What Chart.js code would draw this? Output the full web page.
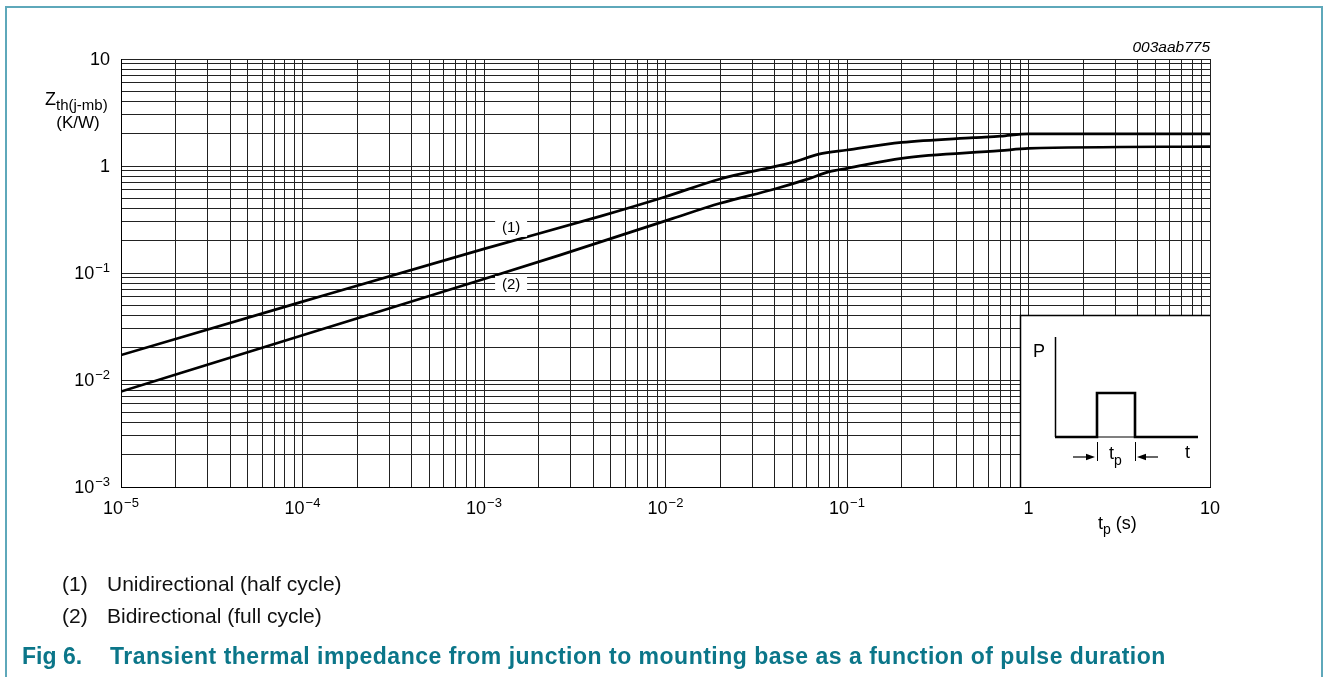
<!DOCTYPE html>
<html>
<head>
<meta charset="utf-8">
<script src="https://cdn.jsdelivr.net/npm/chart.js"></script>
<style>
html,body{margin:0;padding:0;background:#fff;}
#wrap{position:relative;width:1327px;height:677px;overflow:hidden;background:#fff;}
#frame{position:absolute;left:5px;top:6px;width:1318px;height:720px;border:2px solid #5ea8ba;border-bottom:none;box-sizing:border-box;}
canvas{position:absolute;left:0;top:0;}
.leg{position:absolute;font-family:"Liberation Sans",Arial,sans-serif;font-size:21px;line-height:24px;color:#111;white-space:nowrap;}
.cap{position:absolute;font-family:"Liberation Sans",Arial,sans-serif;font-weight:bold;font-size:23px;line-height:26px;color:#0b7689;white-space:nowrap;}
</style>
</head>
<body>
<div id="wrap">
  <canvas id="c" width="1327" height="677"></canvas>
  <div id="frame"></div>
  <div class="leg" style="left:62px;top:572px;">(1)</div>
  <div class="leg" id="leg1" style="left:107px;top:572px;"></div>
  <div class="leg" style="left:62px;top:604px;">(2)</div>
  <div class="leg" id="leg2" style="left:107px;top:604px;"></div>
  <div class="cap" style="left:22px;top:643px;">Fig 6.</div>
  <div class="cap" id="cap" style="left:110px;top:643px;letter-spacing:0.5px;"></div>
</div>
<script>
// ---- data ----
const xTickValues = [1e-5, 1e-4, 1e-3, 1e-2, 1e-1, 1, 10];
const xTickLabels = ['10^−5', '10^−4', '10^−3', '10^−2', '10^−1', '1', '10'];
const yTickValues = [1e-3, 1e-2, 1e-1, 1, 10];
const yTickLabels = ['10^−3', '10^−2', '10^−1', '1', '10'];

// curve (1) unidirectional (half cycle)
const t1 = [1e-5, 1e-4, 1e-3, 4.4e-3, 0.01, 0.02, 0.05, 0.07, 0.1, 0.2, 0.5, 0.7, 1, 2, 10];
const z1 = [0.0171, 0.054, 0.168, 0.34, 0.516, 0.757, 1.08, 1.29, 1.41, 1.66, 1.84, 1.90, 2.0, 2.0, 2.0];
// curve (2) bidirectional (full cycle)
const t2 = [1e-5, 1e-4, 1e-3, 2.62e-3, 0.011, 0.02, 0.04, 0.06, 0.08, 0.1, 0.2, 0.7, 1, 10];
const z2 = [0.0078, 0.0262, 0.088, 0.147, 0.324, 0.448, 0.61, 0.75, 0.885, 0.95, 1.18, 1.39, 1.46, 1.52];

const seriesTags = ['(1)', '(2)'];
const legendTexts = ['Unidirectional (half cycle)', 'Bidirectional (full cycle)'];
const captionText = 'Transient thermal impedance from junction to mounting base as a function of pulse duration';
const figCode = '003aab775';

// where the curve tags sit (data coordinates)
const tagPos = [{x: 1.41e-3, y: 0.264}, {x: 1.41e-3, y: 0.0773}];

document.getElementById('leg1').textContent = legendTexts[0];
document.getElementById('leg2').textContent = legendTexts[1];
document.getElementById('cap').textContent = captionText;

const FONT = '"Liberation Sans", Arial, sans-serif';

function logTicks(min, max) {
  const out = [];
  const e0 = Math.round(Math.log10(min)), e1 = Math.round(Math.log10(max));
  for (let e = e0; e < e1; e++) {
    for (let m = 1; m < 10; m++) out.push(parseFloat((m * Math.pow(10, e)).toPrecision(6)));
  }
  out.push(max);
  return out;
}

function drawPow(ctx, label, x, y, align) {
  const parts = label.split('^');
  const b = parts[0], e = parts[1] || '';
  ctx.font = '18px ' + FONT;
  const wb = ctx.measureText(b).width;
  ctx.font = '13px ' + FONT;
  const we = e ? ctx.measureText(e).width + 1 : 0;
  const total = wb + we;
  let x0 = align === 'center' ? x - total / 2 : (align === 'right' ? x - total : x);
  ctx.textAlign = 'left';
  ctx.textBaseline = 'middle';
  ctx.fillStyle = '#000';
  ctx.font = '18px ' + FONT;
  ctx.fillText(b, x0, y);
  if (e) {
    ctx.font = '13px ' + FONT;
    ctx.fillText(e, x0 + wb + 1, y - 6);
  }
}

function arrow(ctx, x1, y, x2) {
  const dir = Math.sign(x2 - x1);
  ctx.beginPath();
  ctx.moveTo(x1, y);
  ctx.lineTo(x2 - dir * 7, y);
  ctx.stroke();
  ctx.beginPath();
  ctx.moveTo(x2, y);
  ctx.lineTo(x2 - dir * 9, y - 3.2);
  ctx.lineTo(x2 - dir * 9, y + 3.2);
  ctx.closePath();
  ctx.fill();
}

const decor = {
  id: 'decor',
  afterDraw(chart) {
    const ctx = chart.ctx;
    const xs = chart.scales.x, ys = chart.scales.y;
    const ca = chart.chartArea;
    ctx.save();
    // tick labels
    xTickValues.forEach((v, i) => drawPow(ctx, xTickLabels[i], xs.getPixelForValue(v), ca.bottom + 22, 'center'));
    yTickValues.forEach((v, i) => drawPow(ctx, yTickLabels[i], ca.left - 11, ys.getPixelForValue(v) + 1, 'right'));

    // y axis title
    ctx.fillStyle = '#000';
    ctx.textBaseline = 'middle';
    ctx.textAlign = 'left';
    ctx.font = '18px ' + FONT;
    ctx.fillText('Z', 45, 100);
    const wz = ctx.measureText('Z').width;
    ctx.font = '15px ' + FONT;
    ctx.fillText('th(j-mb)', 45 + wz, 106);
    ctx.font = '17px ' + FONT;
    ctx.textAlign = 'center';
    ctx.fillText('(K/W)', 78, 123);

    // x axis title
    ctx.textAlign = 'left';
    ctx.font = '18px ' + FONT;
    ctx.fillText('t', 1098, 524);
    const wt = ctx.measureText('t').width;
    ctx.font = '14px ' + FONT;
    ctx.fillText('p', 1098 + wt, 530);
    const wp = ctx.measureText('p').width;
    ctx.font = '18px ' + FONT;
    ctx.fillText(' (s)', 1098 + wt + wp, 524);

    // figure code
    ctx.font = 'italic 15.5px ' + FONT;
    ctx.textAlign = 'right';
    ctx.fillText(figCode, ca.right, 48);

    // curve tags with white boxes
    tagPos.forEach((p, i) => {
      const px = xs.getPixelForValue(p.x), py = ys.getPixelForValue(p.y);
      ctx.fillStyle = '#fff';
      ctx.fillRect(px - 16, py - 9, 32, 18);
      ctx.fillStyle = '#000';
      ctx.font = '15px ' + FONT;
      ctx.textAlign = 'center';
      ctx.textBaseline = 'middle';
      ctx.fillText(seriesTags[i], px, py);
    });

    // inset pulse sketch
    const L = ca.right - 190, T = ca.bottom - 172;
    ctx.fillStyle = '#fff';
    ctx.fillRect(L, T, 190, 172);
    ctx.strokeStyle = '#000';
    ctx.lineWidth = 1.5;
    ctx.beginPath();
    ctx.moveTo(L + 0.5, ca.bottom);
    ctx.lineTo(L + 0.5, T + 0.5);
    ctx.lineTo(ca.right, T + 0.5);
    ctx.stroke();
    // P axis
    ctx.lineWidth = 1.5;
    ctx.beginPath();
    ctx.moveTo(L + 35.5, T + 22);
    ctx.lineTo(L + 35.5, T + 122);
    ctx.stroke();
    // pulse
    ctx.lineWidth = 2.6;
    ctx.beginPath();
    ctx.moveTo(L + 35, T + 122);
    ctx.lineTo(L + 77, T + 122);
    ctx.lineTo(L + 77, T + 78);
    ctx.lineTo(L + 115, T + 78);
    ctx.lineTo(L + 115, T + 122);
    ctx.lineTo(L + 178, T + 122);
    ctx.stroke();
    ctx.lineWidth = 1.2;
    ctx.beginPath();
    ctx.moveTo(L + 77, T + 122);
    ctx.lineTo(L + 115, T + 122);
    ctx.stroke();
    // dimension marks
    ctx.lineWidth = 1;
    ctx.beginPath();
    ctx.moveTo(L + 77.5, T + 127); ctx.lineTo(L + 77.5, T + 146);
    ctx.moveTo(L + 115.5, T + 127); ctx.lineTo(L + 115.5, T + 146);
    ctx.stroke();
    ctx.fillStyle = '#000';
    ctx.lineWidth = 1.2;
    arrow(ctx, L + 53, T + 142, L + 75);
    arrow(ctx, L + 138, T + 142, L + 117);
    // texts
    ctx.textAlign = 'left';
    ctx.textBaseline = 'middle';
    ctx.font = '18px ' + FONT;
    ctx.fillText('P', L + 13, T + 37);
    ctx.fillText('t', L + 165, T + 138);
    ctx.fillText('t', L + 89, T + 139);
    const wt2 = ctx.measureText('t').width;
    ctx.font = '14px ' + FONT;
    ctx.fillText('p', L + 89 + wt2, T + 146);
    ctx.restore();
  }
};

const gridCfg = {color: '#222', lineWidth: 1, drawTicks: false};
const borderCfg = {display: true, color: '#000', width: 1};

new Chart(document.getElementById('c'), {
  type: 'line',
  data: {
    datasets: [
      {label: seriesTags[0], data: t1.map((t, i) => ({x: t, y: z1[i]})), borderColor: '#000', borderWidth: 2.7, pointRadius: 0, fill: false, cubicInterpolationMode: 'monotone'},
      {label: seriesTags[1], data: t2.map((t, i) => ({x: t, y: z2[i]})), borderColor: '#000', borderWidth: 2.7, pointRadius: 0, fill: false, cubicInterpolationMode: 'monotone'}
    ]
  },
  options: {
    responsive: false,
    animation: false,
    events: [],
    layout: {padding: {left: 121, right: 117, top: 59, bottom: 190}},
    plugins: {legend: {display: false}, tooltip: {enabled: false}, title: {display: false}},
    scales: {
      x: {
        type: 'logarithmic', min: 1e-5, max: 10,
        afterBuildTicks: s => { s.ticks = logTicks(1e-5, 10).map(v => ({value: v})); },
        ticks: {display: false},
        grid: gridCfg, border: borderCfg, title: {display: false}
      },
      y: {
        type: 'logarithmic', min: 1e-3, max: 10,
        afterBuildTicks: s => { s.ticks = logTicks(1e-3, 10).map(v => ({value: v})); },
        ticks: {display: false},
        grid: gridCfg, border: borderCfg, title: {display: false}
      }
    }
  },
  plugins: [decor]
});
</script>
</body>
</html>
